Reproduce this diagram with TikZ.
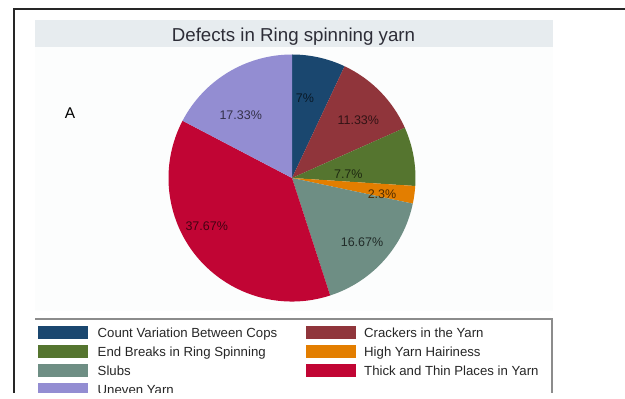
\documentclass[tikz,border=0pt]{standalone}
\usepackage{fontspec}
\setmainfont{Liberation Sans}

% Stata-like s2color palette
\definecolor{cnavy}{RGB}{26,71,111}
\definecolor{cmaroon}{RGB}{144,53,59}
\definecolor{cgreen}{RGB}{85,117,47}
\definecolor{corange}{RGB}{227,126,0}
\definecolor{cteal}{RGB}{110,142,132}
\definecolor{ccranberry}{RGB}{193,5,52}
\definecolor{clavender}{RGB}{147,141,210}
\definecolor{titlebg}{RGB}{231,236,239}
\definecolor{plotbg}{RGB}{252,253,253}
\definecolor{titleink}{RGB}{45,45,55}

\tikzset{
  frameline/.style={line width=1.8pt, draw=black!85},
  legline/.style={line width=1.4pt, draw=black!45},
  titletext/.style={font=\fontsize{18.7}{20}\selectfont, text=titleink, inner sep=0pt, anchor=base},
  slicelabel/.style={font=\fontsize{12.5}{14}\selectfont, inner sep=0pt},
  legtext/.style={font=\fontsize{13.2}{15}\selectfont, text=black!85, inner sep=0pt, anchor=base west},
  swatch/.style={minimum width=50pt, minimum height=12.5pt, inner sep=0pt, anchor=west},
}

\begin{document}
\begin{tikzpicture}[x=1pt,y=1pt]
\useasboundingbox (0,0) rectangle (625,399);
% the drawing stops a few points above the lower edge
\clip (0,6) rectangle (625,399);

% plot region and title band
\fill[plotbg] (35,88) rectangle (553,352);
\fill[titlebg] (35,352) rectangle (553,379);
\node[titletext] (title) at (293.5,357) {Defects in Ring spinning yarn};

% outer frame
\draw[frameline] (14.3,-2) -- (14.3,389.8) -- (627,389.8);

% panel letter
\node[font=\fontsize{15.5}{17}\selectfont, inner sep=0pt, anchor=base] (panel) at (70,280.7) {A};

% pie slices, clockwise from twelve o'clock
\coordinate (c) at (292,221);
\foreach \a/\b/\col in {90/64.8/cnavy, 64.8/24.012/cmaroon, 24.012/-3.708/cgreen,
                        -3.708/-11.988/corange, -11.988/-72/cteal,
                        -72/-207.612/ccranberry, -207.612/-270/clavender}
  \fill[\col] (c) -- ++(\a:123.5) arc[start angle=\a, end angle=\b, radius=123.5] -- cycle;

% slice labels
\node[slicelabel, text=cnavy!35!black]      (l1) at (305,300.7) {7\%};
\node[slicelabel, text=cmaroon!35!black]    (l2) at (358.3,279) {11.33\%};
\node[slicelabel, text=cgreen!35!black]     (l3) at (348.3,225) {7.7\%};
\node[slicelabel, text=corange!35!black]    (l4) at (382,205) {2.3\%};
\node[slicelabel, text=cteal!30!black]      (l5) at (362,157.3) {16.67\%};
\node[slicelabel, text=ccranberry!35!black] (l6) at (206.7,172.3) {37.67\%};
\node[slicelabel, text=clavender!35!black]  (l7) at (240.7,284) {17.33\%};

% legend box
\draw[legline] (35,80) -- (552,80) -- (552,-2);

% legend entries
\node[swatch, fill=cnavy]      (s1) at (38,66.5) {};
\node[legtext] (t1) at (97.5,61.8) {Count Variation Between Cops};
\node[swatch, fill=cmaroon]    (s2) at (306,66.5) {};
\node[legtext] (t2) at (364,61.8) {Crackers in the Yarn};
\node[swatch, fill=cgreen]     (s3) at (38,47.5) {};
\node[legtext] (t3) at (97.5,42.8) {End Breaks in Ring Spinning};
\node[swatch, fill=corange]    (s4) at (306,47.5) {};
\node[legtext] (t4) at (364,42.8) {High Yarn Hairiness};
\node[swatch, fill=cteal]      (s5) at (38,28.5) {};
\node[legtext] (t5) at (97.5,23.8) {Slubs};
\node[swatch, fill=ccranberry] (s6) at (306,28.5) {};
\node[legtext] (t6) at (364,23.8) {Thick and Thin Places in Yarn};
\node[swatch, fill=clavender]  (s7) at (38,9.5) {};
\node[legtext] (t7) at (97.5,4.8) {Uneven Yarn};
\end{tikzpicture}
\end{document}
